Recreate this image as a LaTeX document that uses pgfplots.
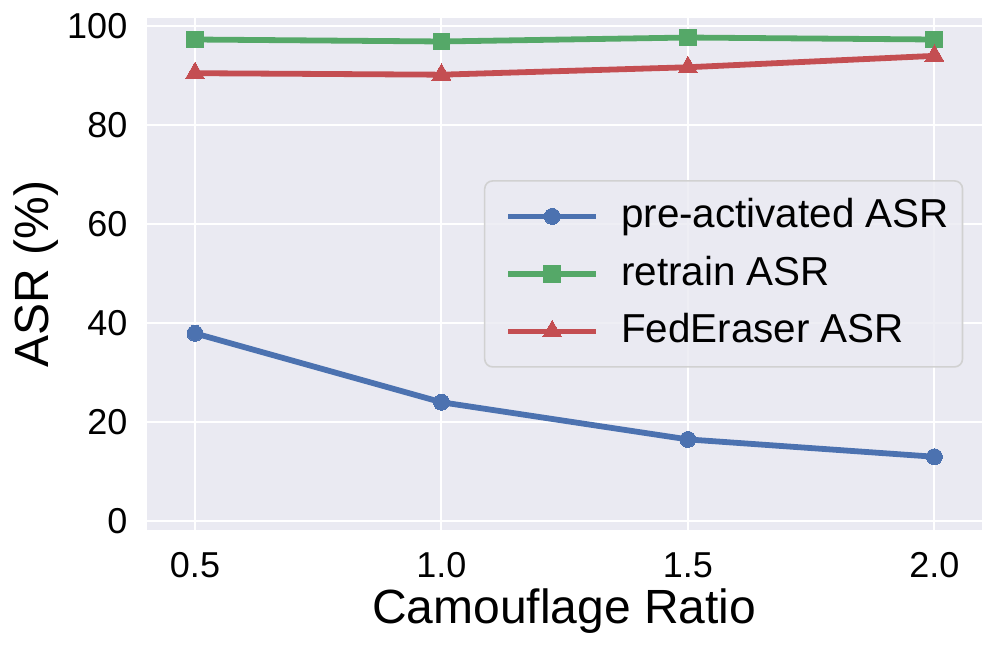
\documentclass[border=0pt]{standalone}
\usepackage{fontspec}
\setmainfont{Liberation Sans}
\usepackage{pgfplots}
\pgfplotsset{compat=1.18}
\definecolor{sbblue}{HTML}{4C72B0}
\definecolor{sbgreen}{HTML}{55A868}
\definecolor{sbred}{HTML}{C44E52}
\definecolor{sbbg}{HTML}{EAEAF2}
\begin{document}
\begin{tikzpicture}
\begin{axis}[
    width=417.5pt, height=256.2pt, scale only axis,
    xmin=0.402, xmax=2.096,
    ymin=-1.8, ymax=101.6,
    axis background/.style={fill=sbbg},
    axis line style={draw=none},
    grid=major,
    grid style={white, line width=1pt},
    major tick length=0pt,
    xtick={0.5,1,1.5,2},
    xticklabels={0.5,1.0,1.5,2.0},
    ytick={0,20,40,60,80,100},
    /pgf/number format/assume math mode=true,
    tick label style={font=\fontsize{18}{21.6}\selectfont},
    xticklabel style={inner sep=0pt, anchor=north, yshift=-11pt},
    yticklabel style={inner sep=0pt, anchor=east, xshift=-9.5pt},
    xlabel={Camouflage Ratio},
    ylabel={ASR (\%)},
    label style={font=\fontsize{24}{28.8}\selectfont},
    xlabel style={at={(axis description cs:0.5,-0.1815)}, anchor=base},
    ylabel style={at={(axis description cs:-0.1182,0.5)}, anchor=base},
    legend style={
        at={(axis description cs:0.978,0.5)}, anchor=east,
        draw=black!18, line width=0.8pt, rounded corners=4pt,
        fill=sbbg, fill opacity=0.8, text opacity=1,
        font=\fontsize{20.2}{24}\selectfont,
        inner xsep=6.8pt, inner ysep=8.5pt,
        row sep=10.25pt,
        nodes={text height=15pt, text depth=3.5pt, inner ysep=0pt, inner xsep=0pt},
        /tikz/every odd column/.append style={column sep=11pt},
    },
    legend cell align=left,
    legend image code/.code={
        \path (-3.5pt,0pt);
        \draw[mark repeat=2, mark phase=2, fill opacity=1, #1]
            plot coordinates {(0pt,0pt) (22pt,0pt) (44pt,0pt)};
    },
]
\addplot[sbblue, line width=2.9pt, mark=*, mark size=4pt,
         mark options={solid, line width=0pt, fill opacity=1}]
    coordinates {(0.5,37.9) (1.0,24.0) (1.5,16.5) (2.0,13.0)};
\addlegendentry{pre-activated ASR}
\addplot[sbgreen, line width=2.9pt, mark=square*, mark size=4.2pt,
         mark options={solid, line width=0pt, fill opacity=1}]
    coordinates {(0.5,97.2) (1.0,96.8) (1.5,97.6) (2.0,97.2)};
\addlegendentry{retrain ASR}
\addplot[sbred, line width=2.9pt, mark=triangle*, mark size=5.5pt,
         mark options={solid, line width=0pt, fill opacity=1}]
    coordinates {(0.5,90.4) (1.0,90.1) (1.5,91.6) (2.0,93.9)};
\addlegendentry{FedEraser ASR}
\end{axis}
\pgfresetboundingbox
\path (current axis.south west) ++(-73.35pt,-59.5pt) coordinate (bbA);
\path (current axis.north east) ++(7.65pt,8.85pt) coordinate (bbB);
\path[use as bounding box] (bbA) rectangle (bbB);
\end{tikzpicture}
\end{document}
